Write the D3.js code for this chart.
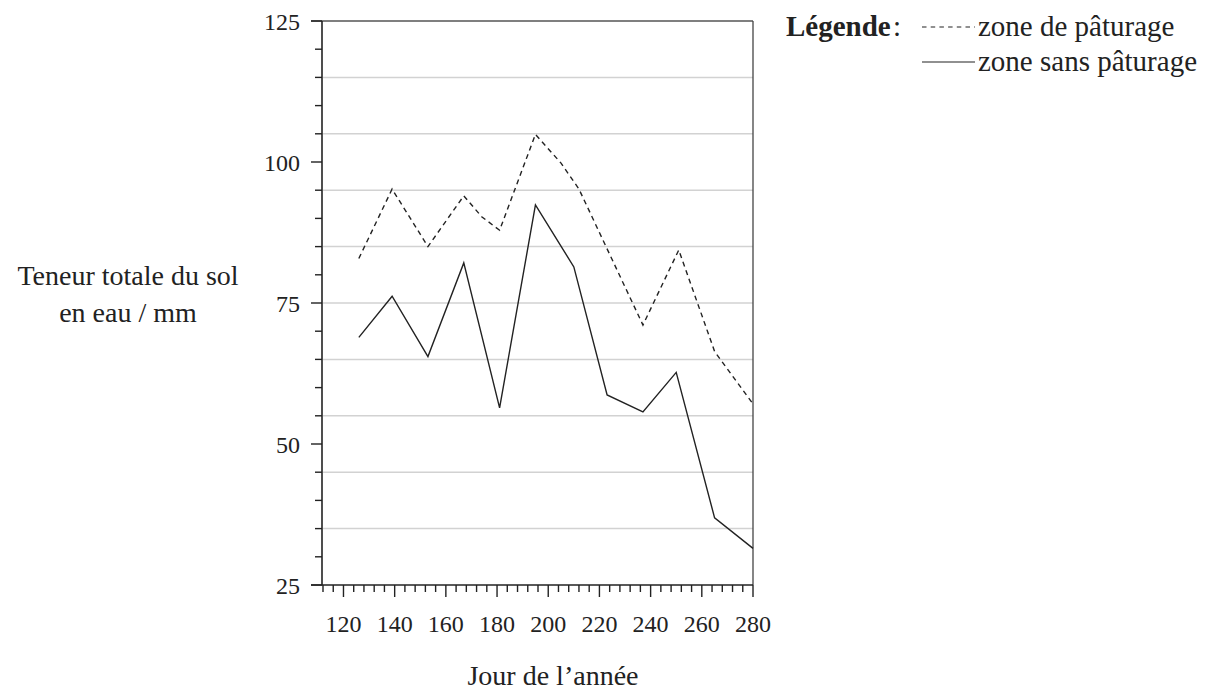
<!DOCTYPE html>
<html>
<head>
<meta charset="utf-8">
<script src="https://cdn.jsdelivr.net/npm/d3@7"></script>
<style>
  body { margin: 0; background: #fff; }
  svg text { font-family: "Liberation Serif", "Times New Roman", serif; fill: #222; }
</style>
</head>
<body>
<svg id="chart" width="1208" height="691"></svg>
<script>
// grazed zone (dashed) and ungrazed zone (solid)
const paturageDays = [126, 139, 153, 167, 174, 181, 195, 205, 212, 237, 251, 265, 280];
const paturageValues = [82.9, 95.2, 85.0, 94.0, 90.3, 87.9, 104.9, 99.8, 95.2, 71.1, 84.4, 66.4, 57.1];
const sansDays = [126, 139, 153, 167, 181, 195, 210, 223, 237, 250, 265, 280];
const sansValues = [68.9, 76.2, 65.5, 82.1, 56.4, 92.4, 81.4, 58.7, 55.7, 62.7, 36.9, 31.5];
const yLabels = [25, 50, 75, 100, 125];
const xLabels = [120, 140, 160, 180, 200, 220, 240, 260, 280];

const svg = d3.select("#chart");

const x = d3.scaleLinear().domain([112, 280]).range([323, 753]);
const y = d3.scaleLinear().domain([25, 125]).range([585, 21]);

// grid lines every 10 (35..115)
const gridVals = d3.range(35, 125, 10);
svg.append("g").selectAll("line")
    .data(gridVals)
    .enter().append("line")
    .attr("x1", x(112)).attr("x2", x(280))
    .attr("y1", d => y(d)).attr("y2", d => y(d))
    .attr("stroke", "#d2d2d2").attr("stroke-width", 1.5);

// top border
svg.append("line")
    .attr("x1", 311).attr("x2", x(280))
    .attr("y1", y(125)).attr("y2", y(125))
    .attr("stroke", "#555").attr("stroke-width", 1.5);

// right border
svg.append("line")
    .attr("x1", x(280)).attr("x2", x(280))
    .attr("y1", y(125)).attr("y2", y(25))
    .attr("stroke", "#444").attr("stroke-width", 1.3);

// y axis
const yAxis = svg.append("g").attr("transform", "translate(322,0)");
yAxis.append("line").attr("x1", 0).attr("x2", 0).attr("y1", y(125)).attr("y2", y(25))
    .attr("stroke", "#222").attr("stroke-width", 1.6);
yAxis.selectAll(".yt")
    .data(d3.range(25, 126, 5))
    .enter().append("line")
    .attr("x1", d => yLabels.includes(d) ? -11 : -7).attr("x2", 0)
    .attr("y1", d => y(d)).attr("y2", d => y(d))
    .attr("stroke", "#222").attr("stroke-width", 1.4);
yAxis.selectAll("text")
    .data(yLabels)
    .enter().append("text")
    .attr("x", -22).attr("y", d => y(d) + 8.5)
    .attr("text-anchor", "end")
    .attr("font-size", 24)
    .text(d => d);

// x axis
const xAxis = svg.append("g").attr("transform", "translate(0,585)");
xAxis.append("line").attr("x1", 311).attr("x2", x(280)).attr("y1", 0).attr("y2", 0)
    .attr("stroke", "#222").attr("stroke-width", 1.6);
xAxis.selectAll(".xt")
    .data(d3.range(112, 281, 4))
    .enter().append("line")
    .attr("x1", d => x(d)).attr("x2", d => x(d))
    .attr("y1", 0).attr("y2", d => xLabels.includes(d) ? 12 : 7)
    .attr("stroke", "#222").attr("stroke-width", 1.4);
xAxis.selectAll("text")
    .data(xLabels)
    .enter().append("text")
    .attr("x", d => x(d)).attr("y", 47)
    .attr("text-anchor", "middle")
    .attr("font-size", 24)
    .text(d => d);

// lines
const line = d3.line().x(d => x(d[0])).y(d => y(d[1]));
svg.append("path")
    .datum(d3.zip(paturageDays, paturageValues))
    .attr("d", line)
    .attr("fill", "none").attr("stroke", "#222").attr("stroke-width", 1.4)
    .attr("stroke-dasharray", "5,4");
svg.append("path")
    .datum(d3.zip(sansDays, sansValues))
    .attr("d", line)
    .attr("fill", "none").attr("stroke", "#222").attr("stroke-width", 1.4);

// axis titles
const yt = svg.append("text").attr("text-anchor", "middle").attr("font-size", 28);
yt.append("tspan").attr("x", 128).attr("y", 285).text("Teneur totale du sol");
yt.append("tspan").attr("x", 128).attr("y", 322).text("en eau / mm");
svg.append("text")
    .attr("x", 553).attr("y", 685)
    .attr("text-anchor", "middle").attr("font-size", 28)
    .text("Jour de l’année");

// legend
svg.append("text").attr("x", 786).attr("y", 36).attr("font-size", 29)
    .attr("font-weight", "bold").text("Légende");
svg.append("text").attr("x", 893).attr("y", 36).attr("font-size", 29).text(":");
svg.append("line").attr("x1", 922).attr("x2", 975).attr("y1", 27).attr("y2", 27)
    .attr("stroke", "#222").attr("stroke-width", 1.2).attr("stroke-dasharray", "4.5,4.2");
svg.append("text").attr("x", 978).attr("y", 36).attr("font-size", 29).text("zone de pâturage");
svg.append("line").attr("x1", 922).attr("x2", 975).attr("y1", 62).attr("y2", 62)
    .attr("stroke", "#222").attr("stroke-width", 1.2);
svg.append("text").attr("x", 978).attr("y", 71).attr("font-size", 29).text("zone sans pâturage");
</script>
</body>
</html>
